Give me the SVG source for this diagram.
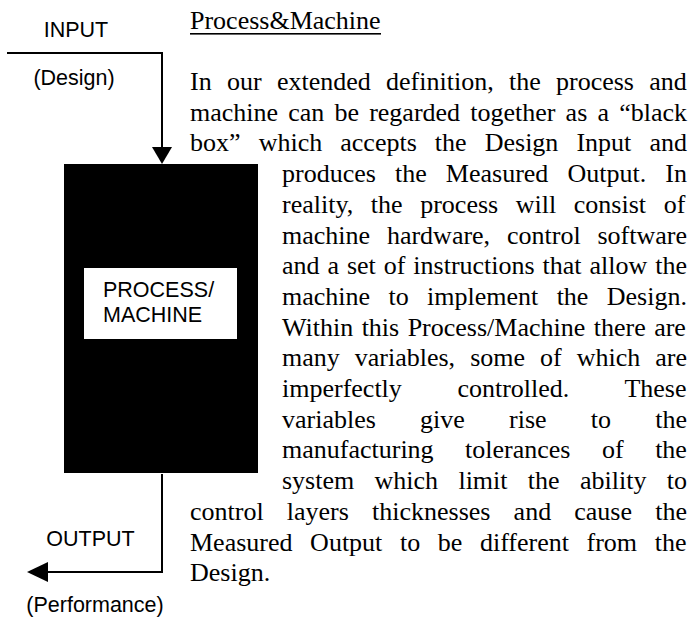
<svg xmlns="http://www.w3.org/2000/svg" width="696" height="618" viewBox="0 0 696 618">
<style>
.lbl{font-family:"Liberation Sans",Arial,sans-serif;font-size:21.5px;fill:#000}
.body{font-family:"Liberation Serif","Times New Roman",serif;font-size:26px;fill:#000}
.conn{stroke:#000;stroke-width:2;fill:none}
</style>
<defs>
<marker id="arr" markerWidth="10" markerHeight="10" refX="10" refY="5" orient="auto" markerUnits="userSpaceOnUse" viewBox="0 0 10 10">
<path d="M0,0 L10,5 L0,10 Z" fill="#000"/>
</marker>
</defs>
<rect width="696" height="618" fill="#fff"/>
<g id="connectors">
<polyline class="conn" points="7,53 162,53 162,147"/>
<polygon points="152,147 172,147 162,164" fill="#000"/>
<polyline class="conn" points="162,474 162,572 47,572"/>
<polygon points="48,562 48,582 27,572" fill="#000"/>
</g>
<g id="input-label">
<text class="lbl" x="76" y="37" text-anchor="middle">INPUT</text>
<text class="lbl" x="74" y="85" text-anchor="middle">(Design)</text>
</g>
<g id="process-machine">
<rect x="64" y="164" width="194" height="309" fill="#000"/>
<rect x="84" y="268" width="153" height="71" fill="#fff"/>
<text class="lbl" x="103" y="297">PROCESS/</text>
<text class="lbl" x="103" y="322">MACHINE</text>
</g>
<g id="output-label">
<text class="lbl" x="90.5" y="546" text-anchor="middle">OUTPUT</text>
<text class="lbl" x="95" y="612" text-anchor="middle">(Performance)</text>
</g>
<g id="description">
<text class="body" x="190" y="29">Process&amp;Machine</text>
<rect x="190" y="33" width="191" height="1.6" fill="#000"/>
<text class="body" x="190" y="90" word-spacing="8.8">In our extended definition, the process and</text>
<text class="body" x="190" y="120.7" word-spacing="3.66">machine can be regarded together as a “black</text>
<text class="body" x="190" y="151.4" word-spacing="11.59">box” which accepts the Design Input and</text>
<text class="body" x="282" y="182.1" word-spacing="12.6">produces the Measured Output. In</text>
<text class="body" x="282" y="212.8" word-spacing="11.1">reality, the process will consist of</text>
<text class="body" x="282" y="243.5" word-spacing="10.34">machine hardware, control software</text>
<text class="body" x="282" y="274.2" word-spacing="1.43">and a set of instructions that allow the</text>
<text class="body" x="282" y="304.9" word-spacing="11.88">machine to implement the Design.</text>
<text class="body" x="282" y="335.6" word-spacing="1.96">Within this Process/Machine there are</text>
<text class="body" x="282" y="366.3" word-spacing="8.51">many variables, some of which are</text>
<text class="body" x="282" y="397" word-spacing="49.06">imperfectly controlled. These</text>
<text class="body" x="282" y="427.7" word-spacing="37.7">variables give rise to the</text>
<text class="body" x="282" y="458.4" word-spacing="25">manufacturing tolerances of the</text>
<text class="body" x="282" y="489.1" word-spacing="13.83">system which limit the ability to</text>
<text class="body" x="190" y="519.8" word-spacing="16.65">control layers thicknesses and cause the</text>
<text class="body" x="190" y="550.5" word-spacing="11.1">Measured Output to be different from the</text>
<text class="body" x="190" y="581.2">Design.</text>
</g>
</svg>
